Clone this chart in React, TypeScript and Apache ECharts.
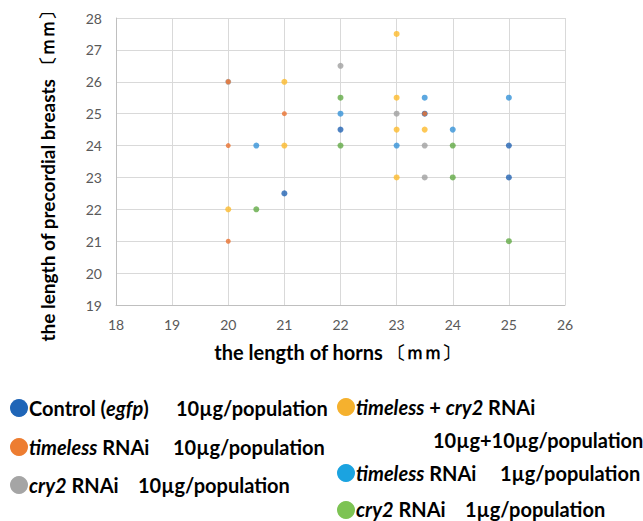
import React, { useEffect, useRef } from "react";
import * as echarts from "echarts";

// ---- data (x = length of horns, y = length of precordial breasts, mm) ----
const controlX = [22, 21, 25, 25, 23.5];
const controlY = [24.5, 22.5, 24, 23, 25];
const tim10X = [20, 21, 20, 20, 23.5];
const tim10Y = [26, 25, 24, 21, 25];
const cry10X = [22, 20, 23, 23.5, 23.5];
const cry10Y = [26.5, 26, 25, 24, 23];
const bothX = [23, 21, 23, 23, 23.5, 21, 20, 23];
const bothY = [27.5, 26, 25.5, 24.5, 24.5, 24, 22, 23];
const tim1X = [22, 20.5, 23.5, 25, 24, 23];
const tim1Y = [25, 24, 25.5, 25.5, 24.5, 24];
const cry1X = [22, 22, 24, 20.5, 24, 25];
const cry1Y = [25.5, 24, 24, 22, 23, 21];

const xTicks = [18, 19, 20, 21, 22, 23, 24, 25, 26];
const yTicks = [19, 20, 21, 22, 23, 24, 25, 26, 27, 28];

const seriesNames = [
  "Control (egfp) 10µg/population",
  "timeless RNAi 10µg/population",
  "cry2 RNAi 10µg/population",
  "timeless + cry2 RNAi 10µg+10µg/population",
  "timeless RNAi 1µg/population",
  "cry2 RNAi 1µg/population",
];
const seriesX = [controlX, tim10X, cry10X, bothX, tim1X, cry1X];
const seriesY = [controlY, tim10Y, cry10Y, bothY, tim1Y, cry1Y];
const markerColors = ["#2263B3", "#EA722F", "#A0A0A0", "#FDBA2C", "#3592D8", "#62AA45"];
const legendColors = ["#1F65B7", "#ED7D31", "#A5A5A5", "#F5B12E", "#1BA3E0", "#7DC353"];
const markerSizes = [6, 5, 6, 6, 6, 6];
const markerZ = [3, 5, 2, 4, 3, 3];

const FONT = "Lato, 'Open Sans', sans-serif";
const LFS = 20;

function legendText(x: number, y: number, text: string, rich: boolean) {
  return {
    type: "text",
    x,
    y,
    style: {
      text,
      fontFamily: FONT,
      fontSize: LFS,
      fontWeight: "bold",
      fill: "#000",
      verticalAlign: "middle",
      align: "left",
      rich: rich
        ? {
            n: { fontFamily: FONT, fontSize: LFS, fontWeight: "bold", fill: "#000" },
            i: { fontFamily: FONT, fontSize: LFS, fontWeight: "bold", fontStyle: "italic", fill: "#000" },
          }
        : undefined,
    },
  };
}

function dot(cx: number, cy: number, color: string) {
  return { type: "circle", shape: { cx, cy, r: 9 }, style: { fill: color } };
}

function axisTitle(x: number, y: number, main: string, size: number, rotate: boolean) {
  return {
    type: "text",
    x,
    y,
    rotation: rotate ? Math.PI / 2 : 0,
    style: {
      text: `{a|${main}}{b|〔ｍｍ〕}`,
      align: "center",
      verticalAlign: "middle",
      rich: {
        a: { fontFamily: FONT, fontSize: size, fontWeight: "bold", fill: "#000" },
        b: { fontFamily: FONT, fontSize: 18, fontWeight: "bold", fill: "#000" },
      },
    },
  };
}

export default function App() {
  const ref = useRef<HTMLDivElement>(null);
  useEffect(() => {
    if (!ref.current) return;
    const chart = echarts.init(ref.current, undefined, { renderer: "svg" });
    const option: any = {
      animation: false,
      backgroundColor: "#ffffff",
      grid: { left: 116, top: 18, right: 78, bottom: 216, containLabel: false },
      xAxis: {
        type: "value",
        min: xTicks[0],
        max: xTicks[xTicks.length - 1],
        interval: 1,
        axisLine: { show: true, lineStyle: { color: "#BFBFBF", width: 1 } },
        axisTick: { show: false },
        axisLabel: { color: "#595959", fontSize: 14, fontFamily: FONT, margin: 12 },
        splitLine: { show: true, lineStyle: { color: "#D9D9D9", width: 1 } },
      },
      yAxis: {
        type: "value",
        min: yTicks[0],
        max: yTicks[yTicks.length - 1],
        interval: 1,
        axisLine: { show: true, lineStyle: { color: "#BFBFBF", width: 1 } },
        axisTick: { show: false },
        axisLabel: { color: "#595959", fontSize: 14, fontFamily: FONT, margin: 14 },
        splitLine: { show: true, lineStyle: { color: "#D9D9D9", width: 1 } },
      },
      series: seriesNames.map((name, k) => ({
        name,
        type: "scatter",
        symbol: "circle",
        symbolSize: markerSizes[k],
        z: markerZ[k],
        itemStyle: { color: markerColors[k] },
        data: seriesX[k].map((x, j) => [x, seriesY[k][j]]),
      })),
      graphic: [
        axisTitle(47, 172, "the length of precordial breasts ", 19, true),
        axisTitle(337, 352, "the length of horns ", 20, false),
        // legend, left column
        dot(19, 408, legendColors[0]),
        legendText(29, 408, "{n|Control (}{i|egfp}{n|)}", true),
        legendText(176, 408, "10µg/population", false),
        dot(19, 447, legendColors[1]),
        legendText(29, 447, "{i|timeless}{n| RNAi}", true),
        legendText(173, 447, "10µg/population", false),
        dot(19, 485, legendColors[2]),
        legendText(29, 485, "{i|cry2}{n| RNAi}", true),
        legendText(138, 485, "10µg/population", false),
        // legend, right column
        dot(346, 407, legendColors[3]),
        legendText(356, 407, "{i|timeless}{n| + }{i|cry2}{n| RNAi}", true),
        legendText(433, 440, "10µg+10µg/population", false),
        dot(346, 473, legendColors[4]),
        legendText(356, 473, "{i|timeless}{n| RNAi}", true),
        legendText(500, 473, "1µg/population", false),
        dot(346, 510, legendColors[5]),
        legendText(356, 509, "{i|cry2}{n| RNAi}", true),
        legendText(465, 509, "1µg/population", false),
      ],
    };
    chart.setOption(option);
    return () => chart.dispose();
  }, []);
  return <div ref={ref} style={{ width: 643, height: 521, position: "absolute", left: 0, top: 0 }} />;
}
